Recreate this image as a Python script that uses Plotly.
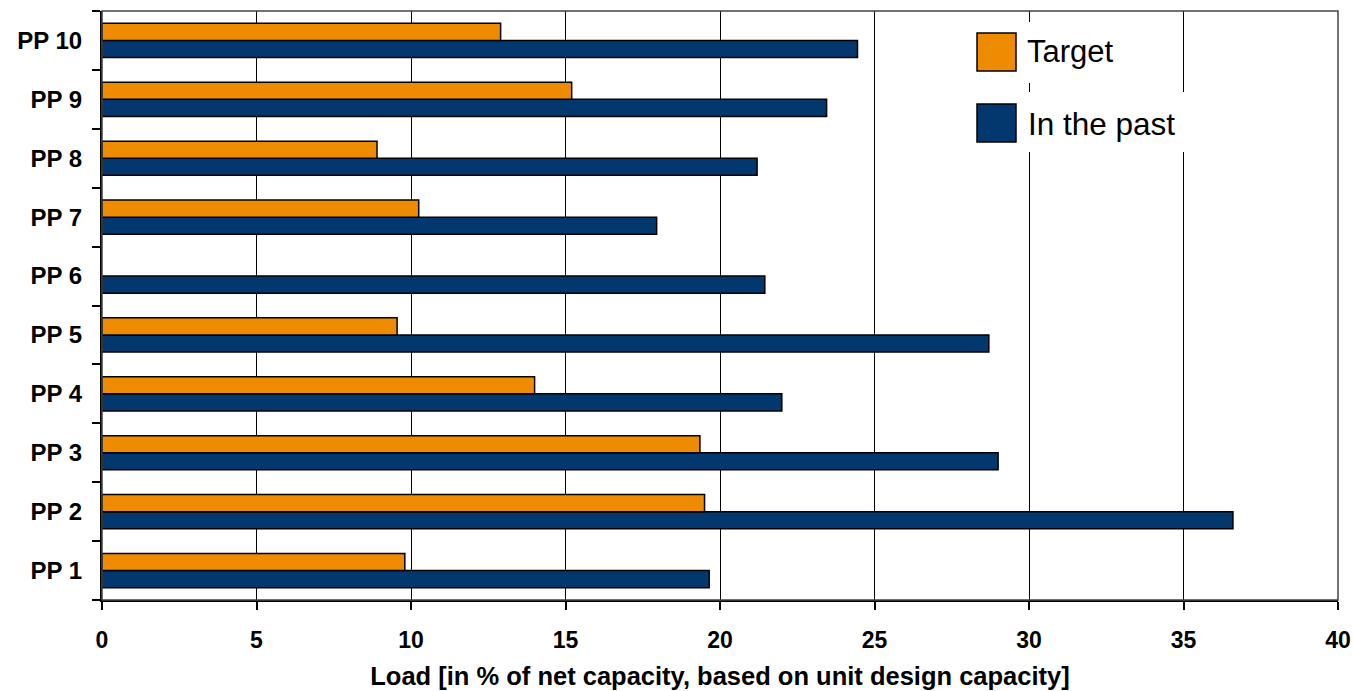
import plotly.graph_objects as go

# Power plant load data (% of net capacity)
plants = ["PP 1", "PP 2", "PP 3", "PP 4", "PP 5", "PP 6", "PP 7", "PP 8", "PP 9", "PP 10"]
target = [9.8, 19.5, 19.35, 14.0, 9.55, None, 10.25, 8.9, 15.2, 12.9]
in_the_past = [19.65, 36.6, 29.0, 22.0, 28.7, 21.45, 17.95, 21.2, 23.45, 24.45]
x_ticks = [0, 5, 10, 15, 20, 25, 30, 35, 40]

series_names = ["Target", "In the past"]
ORANGE = "#EF8B00"
BLUE = "#02386D"
FONT = "Arial, Liberation Sans, sans-serif"

W, H = 1353, 691
L, R, T, B = 102, 15, 11, 91
PW, PH = W - L - R, H - T - B


def px(x):
    return (x - L) / PW


def py(y):
    return (H - B - y) / PH


fig = go.Figure()
# "In the past" first so that it sits below "Target" within each group
fig.add_trace(go.Bar(
    y=plants, x=in_the_past, orientation="h", name=series_names[1],
    marker=dict(color=BLUE, line=dict(color="black", width=1.5)),
    showlegend=False,
))
fig.add_trace(go.Bar(
    y=plants, x=target, orientation="h", name=series_names[0],
    marker=dict(color=ORANGE, line=dict(color="black", width=1.5)),
    showlegend=False,
))

shapes = []
# plot frame (top and right edges)
shapes.append(dict(type="rect", xref="paper", yref="paper", x0=0, x1=1, y0=0, y1=1,
                   line=dict(color="#444444", width=1.5), layer="above"))
# legend backgrounds and swatches
shapes.append(dict(type="rect", xref="paper", yref="paper", x0=px(965), x1=px(1128),
                   y0=py(83), y1=py(22), fillcolor="white", line=dict(width=0), layer="above"))
shapes.append(dict(type="rect", xref="paper", yref="paper", x0=px(965), x1=px(1190),
                   y0=py(152), y1=py(92), fillcolor="white", line=dict(width=0), layer="above"))
shapes.append(dict(type="rect", xref="paper", yref="paper", x0=px(977), x1=px(1016),
                   y0=py(71), y1=py(33), fillcolor=ORANGE, line=dict(color="black", width=1.5),
                   layer="above"))
shapes.append(dict(type="rect", xref="paper", yref="paper", x0=px(977), x1=px(1016),
                   y0=py(142), y1=py(104), fillcolor=BLUE, line=dict(color="black", width=1.5),
                   layer="above"))

annotations = [
    dict(text=series_names[0], xref="paper", yref="paper", x=px(1025), y=py(52),
         xanchor="left", yanchor="middle", showarrow=False,
         font=dict(family=FONT, size=31, color="black")),
    dict(text=series_names[1], xref="paper", yref="paper", x=px(1026), y=py(124),
         xanchor="left", yanchor="middle", showarrow=False,
         font=dict(family=FONT, size=31.5, color="black")),
]

fig.update_layout(
    width=W, height=H,
    margin=dict(l=L, r=R, t=T, b=B, autoexpand=False),
    paper_bgcolor="white", plot_bgcolor="white",
    barmode="group", bargap=0.42, bargroupgap=0,
    font=dict(family=FONT, color="black"),
    shapes=shapes, annotations=annotations,
    showlegend=False,
)
fig.update_xaxes(
    range=[0, 40], tickvals=x_ticks, ticktext=[str(v) for v in x_ticks],
    automargin=False,
    showgrid=True, gridcolor="black", gridwidth=1,
    showline=True, linecolor="black", linewidth=2,
    ticks="outside", ticklen=8, tickcolor="black", tickwidth=1.5,
    tickfont=dict(family=FONT, size=23, color="black", weight="bold"),
    ticklabelstandoff=10,
    zeroline=False,
    title=dict(text="<b>Load [in % of net capacity, based on unit design capacity]</b>",
               font=dict(family=FONT, size=25.5, color="black"), standoff=16),
)
fig.update_yaxes(
    categoryorder="array", categoryarray=plants,
    automargin=False,
    showgrid=False, showline=True, linecolor="black", linewidth=2,
    ticks="outside", ticklen=8, tickcolor="black", tickwidth=1.5, tickson="boundaries",
    tickfont=dict(family=FONT, size=24, color="black", weight="bold"),
    ticklabelstandoff=13,
)

fig.write_html("out.html")
